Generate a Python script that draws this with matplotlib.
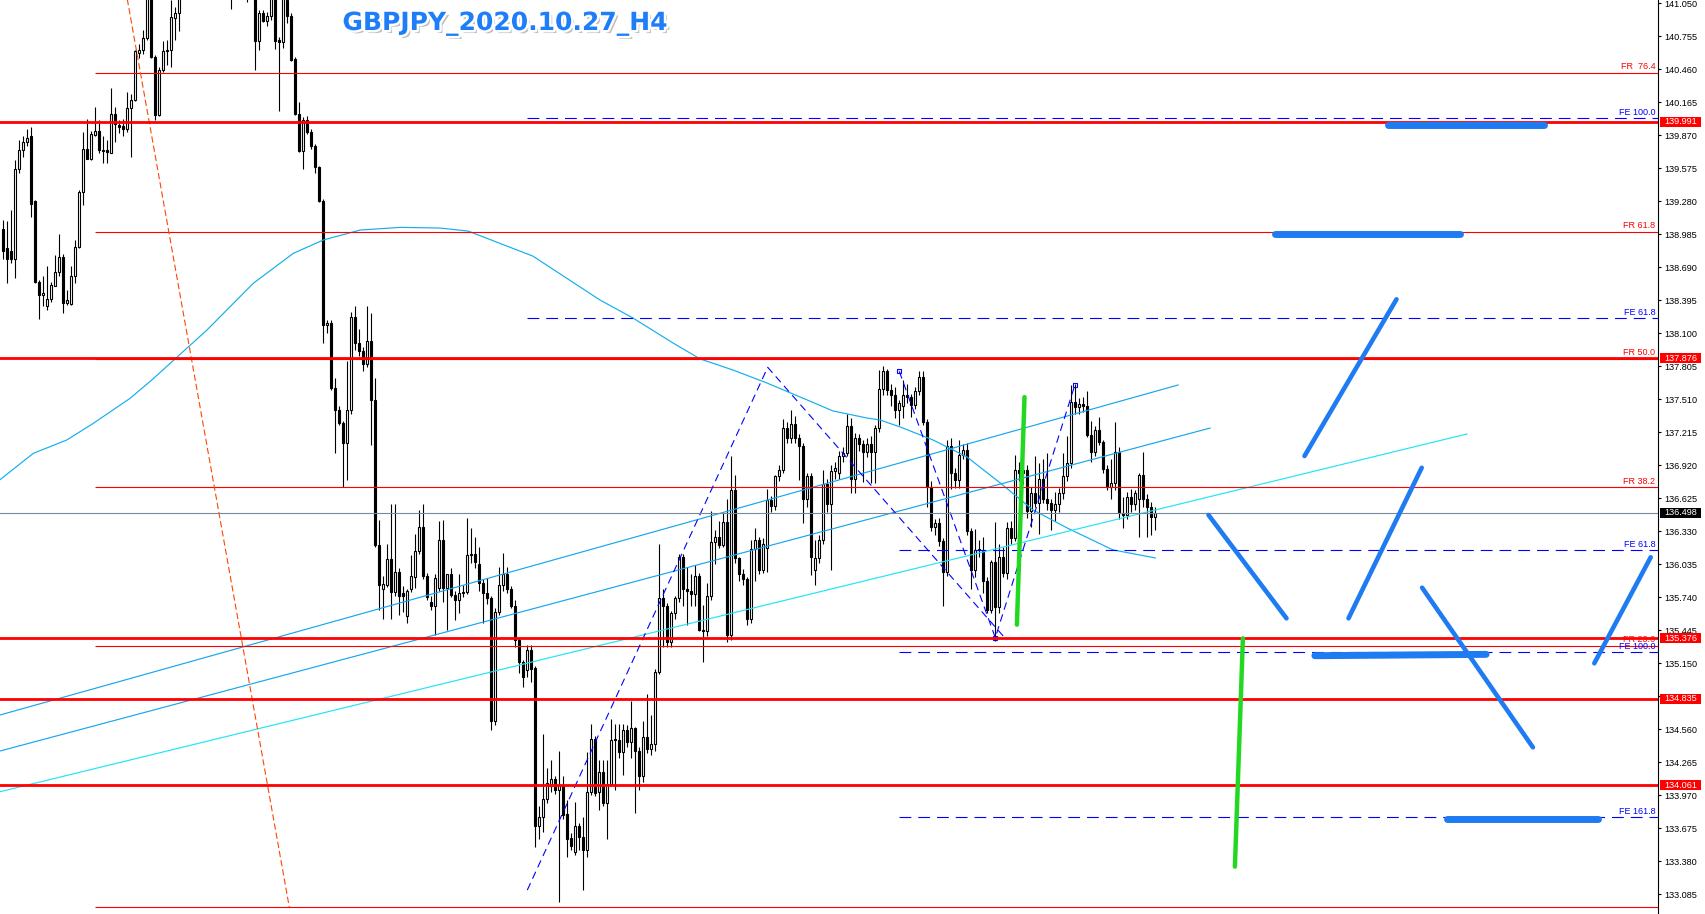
import numpy as np
import matplotlib
matplotlib.use("Agg")
import matplotlib.pyplot as plt
import matplotlib.patheffects as pe
from matplotlib.patches import Rectangle
from matplotlib.transforms import blended_transform_factory

plt.rcParams['font.family'] = ['Liberation Sans', 'DejaVu Sans']
plt.rcParams['lines.scale_dashes'] = False

# ---------------- candle data (H4 bars, index 0 = leftmost) ----------------
opens = [
139.03,138.86,138.84,138.76,139.57,139.74,139.81,139.86,139.28,138.56,
138.44,138.34,138.41,138.52,138.65,138.78,138.37,138.36,138.61,138.87,
139.36,139.75,139.66,139.87,139.91,139.74,139.74,139.71,140.06,139.96,
139.95,139.93,140.11,140.19,140.61,140.63,140.74,141.14,140.57,140.05,
140.45,140.62,140.63,140.92,140.96,141.14,141.30,141.50,141.60,141.55,
141.70,141.80,141.65,141.50,141.60,141.45,141.30,141.40,141.25,141.35,
141.30,141.20,141.25,141.18,140.71,140.96,140.89,140.94,141.12,140.72,
140.70,141.08,140.94,140.55,140.06,139.73,140.01,139.90,139.77,139.59,
139.28,138.17,138.19,137.61,137.41,137.30,137.12,137.41,138.25,138.01,
137.94,137.83,138.03,137.50,136.21,135.81,135.85,136.08,135.79,135.97,
135.78,135.57,135.81,135.92,136.15,136.37,135.93,135.70,135.66,135.82,
136.25,135.82,135.95,135.76,135.72,135.78,135.79,136.13,136.13,136.04,
135.87,135.78,135.73,134.63,135.61,135.85,135.95,135.81,135.66,135.36,
135.16,135.09,135.27,135.11,133.70,133.78,133.94,134.05,134.12,134.02,
134.06,133.80,133.59,133.46,133.70,133.60,133.48,134.00,134.47,134.00,
134.18,133.90,134.07,134.47,134.46,134.36,134.55,134.45,134.57,134.37,
134.14,134.49,134.38,134.43,135.07,135.73,135.66,135.34,135.60,135.73,
136.10,135.81,135.80,135.77,135.93,135.45,135.44,135.75,136.23,136.28,
136.21,136.41,135.40,136.70,136.09,135.95,135.90,135.55,136.17,136.25,
135.98,136.18,136.61,136.56,136.82,136.88,137.25,137.16,137.29,137.16,
137.09,136.62,136.82,135.98,136.09,136.25,136.75,136.57,136.87,136.85,
137.00,137.03,137.27,136.80,137.16,137.11,137.04,137.11,137.04,137.25,
137.60,137.76,137.59,137.55,137.41,137.45,137.55,137.53,137.46,137.58,
137.71,137.31,136.73,136.37,136.40,136.24,135.97,137.09,136.85,136.79,
137.01,137.06,136.33,135.98,136.16,136.16,135.89,135.63,136.06,135.65,
136.10,135.96,136.36,136.27,136.88,136.85,136.88,136.51,136.67,136.58,
136.80,136.62,136.58,136.52,136.57,136.67,136.82,136.94,137.49,137.44,
137.47,137.45,137.19,137.04,137.24,137.13,136.89,136.73,136.76,137.04,
136.49,136.48,136.64,136.57,136.62,136.83,136.62,136.55,136.46]

highs = [
139.11,139.10,139.20,139.65,139.83,139.86,139.93,139.94,139.29,138.58,
138.61,138.70,138.56,138.80,138.99,138.81,138.49,138.70,138.93,139.38,
139.90,140.02,139.91,140.12,140.01,139.86,139.83,140.29,140.12,140.01,
140.02,140.26,140.24,140.63,140.69,140.81,141.38,141.38,140.59,140.48,
140.71,140.72,141.08,141.02,141.26,141.40,141.55,141.70,141.80,141.75,
141.90,141.95,141.80,141.70,141.75,141.60,141.50,141.55,141.45,141.50,
141.45,141.35,141.40,141.25,140.99,140.99,140.97,141.20,141.20,140.75,
141.15,141.12,140.96,140.57,140.17,140.03,140.04,139.93,139.79,139.60,
139.30,138.22,138.22,137.70,137.45,137.32,137.85,138.29,138.34,138.14,
137.98,138.34,138.28,137.70,136.43,135.93,136.22,136.57,136.57,136.00,
135.84,135.81,136.12,136.31,136.52,136.57,135.96,135.75,135.95,136.42,
136.43,135.95,136.00,135.80,135.95,135.85,136.45,136.36,136.28,136.19,
135.90,135.91,135.75,135.64,136.01,136.14,136.01,135.84,135.72,135.38,
135.18,135.31,135.31,135.13,133.87,134.52,134.21,134.29,134.14,134.37,
134.14,133.93,133.63,133.91,133.72,133.78,134.36,134.61,134.50,134.29,
134.29,134.29,134.65,134.61,134.61,134.61,134.60,134.81,134.58,134.40,
134.63,134.88,134.69,135.10,136.22,135.81,135.69,135.62,135.75,136.13,
136.13,136.01,135.95,136.03,135.96,135.67,135.87,136.51,136.34,136.42,
136.49,136.62,137.00,136.83,136.10,135.99,135.92,136.25,136.36,136.28,
136.27,136.71,136.65,136.83,136.92,137.33,137.31,137.41,137.36,137.20,
137.12,136.85,136.85,136.25,136.30,136.88,136.80,136.92,136.95,137.05,
137.08,137.38,137.34,137.21,137.20,137.15,137.16,137.18,137.28,137.77,
137.81,137.78,137.65,137.62,137.50,137.68,137.65,137.56,137.62,137.76,
137.76,137.33,136.78,136.44,136.45,136.27,137.15,137.16,136.90,137.15,
137.11,137.12,136.36,136.35,136.25,136.28,135.92,136.07,136.41,136.22,
136.19,136.41,136.42,137.01,136.95,136.92,136.92,136.73,137.00,136.94,
136.98,137.03,136.62,136.68,136.72,137.03,137.18,137.64,137.65,137.52,
137.53,137.58,137.32,137.27,137.35,137.15,136.92,136.98,137.31,137.08,
136.64,136.68,136.71,136.70,136.85,137.04,136.66,136.59,136.55]

lows = [
138.76,138.55,138.73,138.59,139.53,139.68,139.77,139.14,138.55,138.23,
138.34,138.31,138.38,138.52,138.61,138.28,138.35,138.35,138.55,138.86,
139.25,139.66,139.65,139.86,139.71,139.62,139.62,139.71,139.81,139.89,
139.86,139.90,139.68,140.18,140.56,140.60,140.72,140.56,140.01,140.04,
140.44,140.50,140.48,140.72,140.80,141.10,141.25,141.40,141.45,141.40,
141.60,141.55,141.45,141.35,141.40,141.20,141.15,141.00,141.15,141.20,
141.12,141.06,141.12,140.45,140.63,140.88,140.85,140.90,140.64,140.09,
140.65,140.87,140.53,140.05,139.72,139.57,139.88,139.75,139.53,139.27,
138.01,138.10,137.59,137.03,137.28,136.73,136.79,137.38,137.95,137.90,
137.76,137.80,137.10,136.19,135.63,135.55,135.83,135.55,135.75,135.58,
135.61,135.51,135.79,135.82,136.13,135.90,135.72,135.63,135.40,135.80,
135.70,135.45,135.74,135.54,135.60,135.74,135.77,136.05,136.00,135.80,
135.51,135.68,134.55,134.60,135.58,135.80,135.78,135.64,135.30,135.06,
134.94,135.03,134.98,133.51,133.58,133.64,133.90,134.00,133.98,133.02,
133.76,133.42,133.48,133.44,133.48,133.12,133.42,133.97,133.96,133.84,
133.87,133.58,134.05,134.02,134.30,134.15,134.40,134.30,133.81,134.02,
134.09,134.35,134.33,134.37,135.05,135.30,135.30,135.30,135.55,135.70,
135.66,135.49,135.66,135.66,135.44,135.16,135.39,135.72,136.04,136.18,
136.19,135.34,135.36,136.05,135.89,135.85,135.49,135.51,135.89,135.95,
135.96,135.97,136.50,136.52,136.78,136.85,137.12,137.12,137.12,136.79,
136.40,136.55,135.94,135.85,136.05,136.22,136.50,135.98,136.80,136.80,
136.95,137.00,136.67,136.67,137.05,136.77,136.99,136.76,136.76,137.22,
137.55,137.55,137.45,137.34,137.28,137.34,137.48,137.35,137.42,137.55,
137.28,136.55,136.33,136.30,136.20,135.66,135.93,136.71,136.72,136.72,
136.98,136.30,135.81,135.92,136.10,135.78,135.60,135.60,135.35,135.60,
135.92,135.90,136.22,136.24,136.78,136.75,136.45,136.37,136.55,136.31,
136.58,136.52,136.34,136.42,136.50,136.62,136.78,136.90,137.38,137.38,
137.40,137.17,136.95,137.00,137.10,136.85,136.70,136.62,136.70,136.44,
136.36,136.44,136.50,136.52,136.28,136.55,136.28,136.30,136.34]

closes = [
138.84,138.76,138.76,139.57,139.74,139.81,139.85,139.26,138.56,138.44,
138.46,138.41,138.53,138.65,138.78,138.37,138.40,138.61,138.87,139.36,
139.75,139.66,139.88,139.91,139.74,139.73,139.72,140.06,139.97,139.94,
139.93,140.11,140.19,140.62,140.63,140.74,141.11,140.57,140.05,140.45,
140.62,140.63,140.93,140.96,141.14,141.30,141.50,141.60,141.55,141.70,
141.80,141.65,141.50,141.60,141.45,141.30,141.40,141.25,141.35,141.30,
141.20,141.25,141.18,140.71,140.96,140.89,140.94,141.12,140.71,140.70,
141.10,140.94,140.54,140.06,139.73,140.01,139.90,139.77,139.59,139.28,
138.17,138.19,137.61,137.41,137.30,137.12,137.41,138.25,138.01,137.94,
137.83,138.03,137.50,136.21,135.85,135.86,136.08,135.79,135.97,135.75,
135.75,135.80,135.93,136.15,136.37,135.93,135.74,135.66,135.91,136.25,
135.82,135.95,135.76,135.72,135.78,135.79,136.12,136.12,136.06,135.87,
135.78,135.73,134.63,135.61,135.85,135.95,135.81,135.66,135.36,135.16,
135.03,135.27,135.10,133.70,133.78,133.94,134.08,134.12,134.02,134.06,
133.79,133.58,133.52,133.70,133.60,133.48,134.00,134.47,133.99,134.18,
133.90,134.07,134.46,134.46,134.36,134.55,134.45,134.57,134.37,134.14,
134.49,134.38,134.43,135.07,135.73,135.66,135.34,135.60,135.73,136.10,
135.81,135.80,135.77,135.93,135.45,135.44,135.75,136.23,136.28,136.21,
136.41,135.40,136.70,136.09,135.95,135.90,135.55,136.17,136.25,135.98,
136.22,136.61,136.56,136.82,136.88,137.25,137.16,137.29,137.16,137.09,
136.62,136.82,136.10,136.09,136.25,136.75,136.57,136.87,136.90,137.00,
137.03,137.27,136.80,137.16,137.11,137.04,137.11,137.04,137.25,137.60,
137.76,137.59,137.55,137.41,137.48,137.55,137.53,137.46,137.58,137.71,
137.31,136.73,136.37,136.40,136.24,135.97,137.09,136.85,136.79,137.01,
137.06,136.33,135.98,136.16,136.17,135.89,135.63,136.06,135.65,136.10,
135.96,136.36,136.27,136.88,136.85,136.88,136.51,136.67,136.58,136.80,
136.62,136.58,136.52,136.57,136.67,136.82,136.94,137.49,137.44,137.47,
137.45,137.19,137.04,137.24,137.13,136.89,136.73,136.76,137.04,136.49,
136.48,136.64,136.57,136.67,136.83,136.62,136.55,136.46,136.498]

# moving average (bar index, price)
ma_x = [-0.8, 7.5, 15.85, 22.5, 31.7, 37.1, 50.9, 62.5, 72.5, 80, 89.2, 99.2, 109.2,
        116.2, 132.4, 149.2, 157.4, 167.4, 174.2, 182.4, 190.9, 199.2, 207.4, 215.9,
        219.2, 224.2, 232.4, 240.9, 249.2, 257.4, 265.9, 277.4, 288]
ma_p = [136.792, 137.027, 137.146, 137.295, 137.519, 137.682, 138.129, 138.547, 138.815,
        138.934, 139.023, 139.047, 139.041, 139.014, 138.790, 138.397, 138.237, 138.014,
        137.871, 137.772, 137.656, 137.531, 137.406, 137.343, 137.325, 137.263, 137.147,
        136.995, 136.763, 136.522, 136.361, 136.164, 136.092]

# right-axis ticks
tick_values = [133.085, 133.380, 133.675, 133.970, 134.265, 134.560, 134.855, 135.150,
               135.445, 135.740, 136.035, 136.330, 136.625, 136.920, 137.215, 137.510,
               137.805, 138.100, 138.395, 138.690, 138.985, 139.280, 139.575, 139.870,
               140.165, 140.460, 140.755, 141.050]

# horizontal levels
thick_red_levels = [139.991, 137.876, 135.376, 134.835, 134.061]
current_price = 136.498

fr_names = ['FR 0.0', 'FR 23.6', 'FR 38.2', 'FR 50.0', 'FR 61.8', 'FR  76.4']
fr_prices = [132.969, 135.307, 136.723, 137.872, 139.008, 140.430]
fr_show_label = [False, True, True, True, True, True]
fib_line_x = [22.8, 71.5]
fib_line_p = [142.73, 132.97]

fe1_names = ['FE 61.8', 'FE 100.0']
fe1_prices = [138.234, 140.022]
fe1_x = [131.0, 191.1, 250.85]
fe1_p = [133.123, 137.796, 135.358]

fe2_names = ['FE 61.8', 'FE 100.0', 'FE 161.8']
fe2_prices = [136.160, 135.248, 133.773]
fe2_x = [224.0, 248.0, 267.9]
fe2_p = [137.760, 135.379, 137.639]

# channel lines (x0, p0, x1, p1)
channel_lines = [(-0.825, 134.688, 293.7, 137.638),
                 (-0.825, 134.366, 301.7, 137.253),
                 (-0.825, 134.002, 365.9, 137.200)]
channel_colors = ['#17A6EE', '#17A6EE', '#22E4F8']

# hand drawn scenario lines (x0, p0, x1, p1)
green_lines = [(255.3, 137.530, 253.4, 135.495),
               (309.9, 135.373, 307.9, 133.332)]
blue_flat_lines = [(346.1, 139.959, 385.2, 139.959),
                   (317.9, 138.988, 364.3, 138.988),
                   (327.9, 135.218, 370.7, 135.230),
                   (360.9, 133.758, 398.8, 133.758)]
blue_diag_lines = [(325.3, 137.003, 348.3, 138.404),
                   (301.3, 136.476, 320.8, 135.552),
                   (336.3, 135.552, 354.6, 136.898),
                   (354.7, 135.826, 382.4, 134.399),
                   (397.75, 135.150, 411.85, 136.098)]

title = 'GBPJPY_2020.10.27_H4'

# ---------------- figure ----------------
W, H = 1706, 914
AXR = 1658
fig = plt.figure(figsize=(W / 100, H / 100), dpi=100, facecolor='white')
ax = fig.add_axes([0, 0, AXR / W, 1])
ax.set_facecolor('white')
XL = (-0.825, 413.675)
YL = (132.909, 141.0795)
ax.set_xlim(*XL)
ax.set_ylim(*YL)

# candles
o = np.array(opens); h = np.array(highs); l = np.array(lows); c = np.array(closes)
idx = np.arange(len(c))
up = c >= o
ax.vlines(idx, l, h, color='black', lw=0.8, zorder=2)
bot = np.minimum(o, c)
ht = np.maximum(np.abs(c - o), 0.006)
ax.bar(idx, ht, bottom=bot, width=0.42, color=np.where(up, 'white', 'black'),
       edgecolor='black', linewidth=0.8, zorder=3)

# moving average
ax.plot(ma_x, ma_p, color='#12AEEF', lw=0.85, zorder=4)

# channels
for (x0, p0, x1, p1), col in zip(channel_lines, channel_colors):
    ax.plot([x0, x1], [p0, p1], color=col, lw=0.85, zorder=4)

# fib retracement
for name, p, show in zip(fr_names, fr_prices, fr_show_label):
    ax.hlines(p, fib_line_x[0] + 0.1, XL[1], color='#FF0000', lw=0.8, zorder=4)
ax.plot(fib_line_x, fib_line_p, color='#FF4500', lw=0.8, dashes=(4.5, 2.2), zorder=4)

# fib expansions
for prices, xs in ((fe1_prices, fe1_x), (fe2_prices, fe2_x)):
    for p in prices:
        ax.hlines(p, xs[0], XL[1], color='#0000FF', lw=0.8, linestyles=[(0, (8.5, 5.0))], zorder=4)
for xs, ps in ((fe1_x, fe1_p), (fe2_x, fe2_p)):
    ax.plot(xs, ps, color='#0000FF', lw=0.8, dashes=(5.5, 3.5), zorder=4)
ax.plot(fe2_x, fe2_p, ls='none', marker='s', ms=3.2, mfc='none', mec='#0000FF', mew=0.8, zorder=5)

# current price line
ax.axhline(current_price, color='#778899', lw=0.8, zorder=4)

# labels for levels (right aligned at plot edge, sitting on line)
bt = blended_transform_factory(ax.transAxes, ax.transData)
lx = 1655.5 / AXR
for name, p, show in zip(fr_names, fr_prices, fr_show_label):
    if show:
        ax.text(lx, p + 0.012, name, transform=bt, ha='right', va='bottom',
                fontsize=6.5, color='#FF0000', zorder=4.5)
for names, prices in ((fe1_names, fe1_prices), (fe2_names, fe2_prices)):
    for name, p in zip(names, prices):
        ax.text(lx, p + 0.008, name, transform=bt, ha='right', va='bottom',
                fontsize=6.5, color='#0000FF', zorder=4.5)

# thick red lines
for p in thick_red_levels:
    ax.axhline(p, color='#FF0000', lw=2.0, zorder=5)

# hand-drawn lines
for x0, p0, x1, p1 in green_lines:
    ax.plot([x0, x1], [p0, p1], color='#22D822', lw=3.2, solid_capstyle='round', zorder=6)
for x0, p0, x1, p1 in blue_flat_lines:
    ax.plot([x0, x1], [p0, p1], color='#1F7BF2', lw=5.0, solid_capstyle='round', zorder=6)
for x0, p0, x1, p1 in blue_diag_lines:
    ax.plot([x0, x1], [p0, p1], color='#1F7BF2', lw=3.3, solid_capstyle='round', zorder=6)

# axes styling
for s in ('left', 'top', 'bottom'):
    ax.spines[s].set_visible(False)
ax.spines['right'].set_color('black')
ax.spines['right'].set_linewidth(0.8)
ax.set_xticks([])
ax.yaxis.tick_right()
ax.set_yticks(tick_values)
ax.set_yticklabels([f'{v:.3f}' for v in tick_values])
ax.tick_params(axis='y', direction='out', length=2.5, width=0.8, pad=1.8,
               labelsize=6.6, colors='black')

# price boxes
box_h = 10 / 111.86
for p in thick_red_levels + [current_price]:
    col = 'black' if p == current_price else '#FF0000'
    ax.add_patch(Rectangle((1660.5 / AXR, p - box_h / 2), 40.5 / AXR, box_h, transform=bt,
                           facecolor=col, edgecolor='none', clip_on=False, zorder=20))
    ax.text(1680.8 / AXR, p, f'{p:.3f}', transform=bt, ha='center', va='center',
            fontsize=6.6, color='white', clip_on=False, zorder=21)

# title
fig.text(505 / W, 1 - 24 / H, title, ha='center', va='center', fontsize=18,
         fontweight='bold', family=['DejaVu Sans'], color='#1E7EFA',
         path_effects=[pe.SimplePatchShadow(offset=(2.2, -2.2), shadow_rgbFace='#8a8a8a', alpha=0.55),
                       pe.Stroke(linewidth=3.5, foreground='white'), pe.Normal()])

fig.savefig('out.png', dpi=100, facecolor='white')
